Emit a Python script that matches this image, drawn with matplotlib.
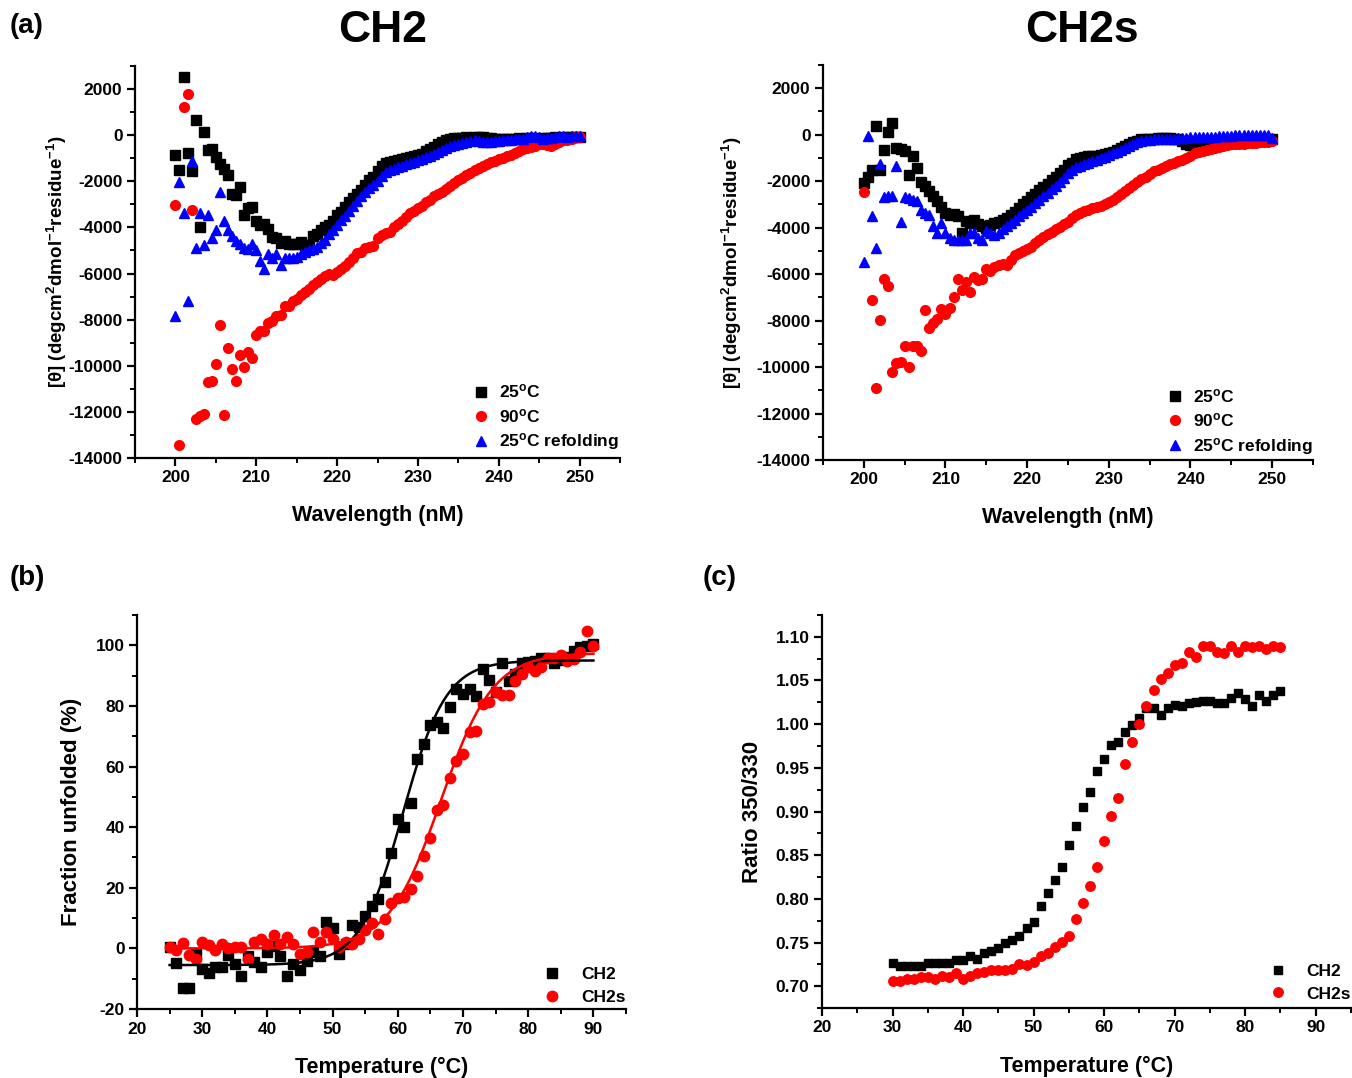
import numpy as np
import matplotlib
matplotlib.use('Agg')
import matplotlib.pyplot as plt
from matplotlib.ticker import MultipleLocator, FormatStrFormatter

plt.rcParams['font.family'] = ['Liberation Sans', 'DejaVu Sans']
plt.rcParams['font.weight'] = 'bold'
plt.rcParams['axes.labelweight'] = 'bold'
plt.rcParams['axes.unicode_minus'] = False
plt.rcParams['mathtext.fontset'] = 'custom'
plt.rcParams['mathtext.rm'] = 'Liberation Sans:bold'
plt.rcParams['mathtext.it'] = 'Liberation Sans:bold'
plt.rcParams['mathtext.bf'] = 'Liberation Sans:bold'
plt.rcParams['mathtext.default'] = 'bf'

# ---------------- (a) CD spectra, wavelength 200-250 nm step 0.5 ----------------
ch2_25 = [
    -860, -1520, 2540, -760, -1550, 670, -4000, 130, -640, -600,
    -960, -1250, -1470, -1720, -2540, -2610, -2250, -3470, -3150, -3120,
    -3740, -3880, -3850, -4050, -4410, -4470, -4690, -4610, -4730, -4730,
    -4730, -4640, -4760, -4760, -4390, -4290, -4100, -3970, -3880, -3710,
    -3470, -3330, -3100, -2900, -2720, -2550, -2380, -2150, -1960, -1800,
    -1550, -1350, -1200, -1150, -1110, -1080, -1050, -1000, -950, -900,
    -880, -800, -700, -600, -500, -400, -310, -230, -160, -140,
    -120, -130, -100, -110, -90, -100, -90, -110, -130, -150,
    -160, -150, -170, -160, -150, -140, -150, -130, -120, -140,
    -150, -130, -120, -110, -100, -110, -100, -90, -100, -80,
    -60]
ch2_90 = [
    -3040, -13440, 1230, 1770, -3230, -12320, -12200, -12090, -10720, -10640,
    -9940, -8220, -12130, -9240, -10160, -10640, -9550, -10040, -9400, -9650,
    -8670, -8480, -8480, -8150, -8040, -7850, -7820, -7390, -7390, -7210,
    -7100, -6950, -6800, -6660, -6510, -6370, -6220, -6100, -6040, -6070,
    -5930, -5810, -5660, -5490, -5340, -5120, -5050, -4900, -4830, -4790,
    -4470, -4320, -4250, -4180, -4000, -3850, -3740, -3550, -3370, -3280,
    -3150, -3050, -2900, -2790, -2650, -2550, -2450, -2330, -2200, -2080,
    -1960, -1850, -1720, -1620, -1520, -1420, -1330, -1250, -1180, -1100,
    -1050, -980, -920, -860, -760, -680, -620, -560, -510, -450,
    -400, -380, -420, -450, -380, -300, -230, -200, -150, -100,
    -60]
ch2_ref = [
    -7850, -2010, -3370, -7210, -1110, -4900, -3370, -4760, -3450, -4470,
    -4100, -2450, -3740, -4100, -4390, -4610, -4730, -4900, -4930, -4730,
    -4980, -5460, -5810, -5170, -5310, -5170, -5610, -5310, -5340, -5340,
    -5270, -5150, -5080, -5000, -4930, -4850, -4690, -4540, -4300, -4100,
    -3900, -3700, -3500, -3300, -3050, -2850, -2650, -2450, -2280, -2150,
    -2000, -1750, -1600, -1520, -1450, -1380, -1330, -1260, -1200, -1150,
    -1080, -1020, -960, -900, -820, -730, -650, -560, -480, -420,
    -380, -330, -280, -240, -230, -260, -300, -300, -280, -260,
    -240, -230, -220, -200, -180, -170, -160, -100, -50, -20,
    -100, -150, -130, -120, -80, -50, -30, -60, -50, -40,
    -30]

ch2s_25 = [
    -2060, -1830, -1500, 380, -1500, -660, 120, 490, -560, -630,
    -710, -1750, -920, -1430, -2050, -2220, -2440, -2650, -2870, -3090,
    -3380, -3450, -3410, -3520, -4240, -3710, -3810, -3670, -3840, -3920,
    -4030, -3880, -3810, -3740, -3670, -3590, -3450, -3310, -3150, -3000,
    -2870, -2700, -2550, -2400, -2250, -2100, -1950, -1820, -1650, -1500,
    -1300, -1200, -1050, -1000, -960, -930, -920, -900, -870, -850,
    -780, -740, -650, -560, -470, -390, -320, -260, -200, -190,
    -170, -170, -150, -140, -130, -150, -180, -200, -280, -380,
    -450, -490, -510, -520, -520, -480, -450, -420, -400, -380,
    -350, -320, -300, -280, -270, -250, -230, -210, -200, -200,
    -200]
ch2s_90 = [
    -2480, np.nan, -7100, -10920, -7990, -6220, -6520, -10230, -9840, -9800,
    -9080, -9990, -9080, -9080, -9330, -7560, -8330, -8110, -7920, -7490,
    -7710, -7450, -6980, -6230, -6670, -6340, -6770, -6120, -6260, -6230,
    -5800, -5860, -5690, -5610, -5570, -5610, -5400, -5180, -5110, -5010,
    -4930, -4820, -4680, -4530, -4390, -4270, -4170, -4070, -3970, -3850,
    -3750, -3600, -3450, -3380, -3300, -3230, -3150, -3100, -3050, -2980,
    -2900, -2800, -2680, -2560, -2420, -2300, -2150, -2020, -1900, -1800,
    -1700, -1560, -1500, -1420, -1330, -1270, -1200, -1130, -1070, -1000,
    -900, -800, -750, -700, -650, -610, -560, -510, -470, -440,
    -420, -410, -400, -380, -360, -350, -340, -330, -320, -300,
    -270]
ch2s_ref = [
    -5470, -60, -3490, -4860, -1280, -2680, -2630, -2630, -1330, -3740,
    -2680, -2730, -2800, -2870, -3230, -3350, -3450, -3950, -4210, -3780,
    -4240, -4460, -4530, -4530, -4530, -4530, -4240, -4240, -4460, -4530,
    -4130, -4210, -4310, -4210, -4070, -3950, -3810, -3650, -3500, -3380,
    -3250, -3100, -2950, -2800, -2650, -2500, -2350, -2200, -2030, -1860,
    -1650, -1500, -1400, -1330, -1260, -1200, -1140, -1080, -1000, -950,
    -880, -800, -730, -650, -560, -480, -420, -330, -260, -230,
    -210, -200, -200, -190, -180, -170, -170, -160, -140, -130,
    -120, -110, -100, -100, -90, -90, -80, -70, -60, -60,
    -50, -30, -30, -20, -20, 0, 0, 0, -10, -20,
    -130]

# ---------------- (b) fraction unfolded, 25-90 C ----------------
b_ch2 = [
    0.3, -4.8, -13.2, -13.2, -1.9, -6.8, -8.1, -6.3, -6.1, -2.2,
    -5.2, -9.0, -2.4, -4.6, -6.3, -1.3, 0.9, -2.4, -9.0, -5.2,
    -7.0, -4.1, -1.3, -2.6, 8.6, 6.6, -1.9, 1.4, 7.7, 6.9,
    10.8, 14.1, 16.3, 21.8, 31.4, 42.7, 39.9, 48.0, 62.5, 67.4,
    73.7, 74.6, 72.6, 79.5, 85.6, 83.9, 85.6, 83.4, 92.2, 88.7,
    84.7, 94.1, 88.3, 90.5, 94.1, 94.6, 94.9, 95.7, 95.7, 94.3,
    95.2, 96.0, 98.2, 99.3, 99.9, 100.4]
b_ch2s = [
    0.3, -0.4, 1.8, -2.2, -3.5, 2.2, 1.1, -0.5, 1.4, 0.0,
    0.3, 0.3, -3.5, 2.2, 3.1, 1.4, 4.4, 1.4, 3.6, 1.4,
    -1.9, -1.3, 5.5, 2.2, 5.3, 3.1, 0.3, 2.0, 1.4, 3.1,
    6.2, 8.4, 4.7, 9.7, 15.0, 16.5, 16.8, 19.6, 24.0, 30.4,
    36.3, 45.8, 47.3, 56.1, 61.9, 64.1, 71.5, 71.8, 80.6, 81.4,
    84.7, 83.6, 83.6, 88.3, 90.5, 92.7, 91.6, 92.7, 95.7, 95.7,
    96.8, 94.9, 95.5, 97.7, 104.8, 99.9]
# Boltzmann fit parameters: bottom, top, Tm, slope
fit_ch2 = (-5.5, 95.0, 60.8, 3.3)
fit_ch2s = (0.0, 97.5, 66.6, 4.0)

# ---------------- (c) ratio 350/330, 30-85 C ----------------
c_ch2 = [
    0.727, 0.723, 0.723, 0.723, 0.723, 0.726, 0.727, 0.727, 0.727, 0.730,
    0.730, 0.734, 0.731, 0.738, 0.740, 0.744, 0.749, 0.753, 0.757, 0.767,
    0.774, 0.792, 0.807, 0.821, 0.837, 0.862, 0.883, 0.905, 0.922, 0.946,
    0.960, 0.976, 0.980, 0.991, 0.999, 1.007, 1.018, 1.019, 1.011, 1.019,
    1.022, 1.021, 1.024, 1.025, 1.027, 1.026, 1.024, 1.024, 1.030, 1.036,
    1.029, 1.021, 1.033, 1.026, 1.033, 1.038]
c_ch2s = [
    0.706, 0.706, 0.708, 0.708, 0.711, 0.711, 0.708, 0.712, 0.710, 0.715,
    0.708, 0.712, 0.715, 0.716, 0.718, 0.719, 0.719, 0.720, 0.725, 0.724,
    0.728, 0.734, 0.738, 0.745, 0.751, 0.758, 0.777, 0.795, 0.815, 0.837,
    0.866, 0.895, 0.916, 0.954, 0.980, 1.000, 1.021, 1.039, 1.052, 1.059,
    1.068, 1.070, 1.083, 1.077, 1.090, 1.089, 1.083, 1.081, 1.089, 1.083,
    1.090, 1.088, 1.090, 1.086, 1.089, 1.088]

W, H = 1352, 1078
fig = plt.figure(figsize=(W / 100, H / 100), dpi=100)


def box(l, t, r, b):
    return [l / W, 1 - b / H, (r - l) / W, (b - t) / H]


def style(ax):
    for s in ('top', 'right'):
        ax.spines[s].set_visible(False)
    for s in ('left', 'bottom'):
        ax.spines[s].set_linewidth(1.6)
    ax.tick_params(which='major', direction='out', length=6, width=1.6, labelsize=12.5, pad=3)
    ax.tick_params(which='minor', direction='out', length=3.5, width=1.4)
    for lab in ax.get_xticklabels() + ax.get_yticklabels():
        lab.set_fontweight('bold')


deg = r'$^{\mathbf{o}}$C'
ylab_a = r'[θ] (degcm$^{\mathbf{2}}$dmol$^{\mathbf{-1}}$residue$^{\mathbf{-1}}$)'
LEG = dict(frameon=False, fontsize=12.5, borderaxespad=0.2, handlelength=1.2, numpoints=1)


def panel_a(ax, y25, y90, yref, ylab_x, leg_anchor):
    x = np.linspace(200, 250, len(y25))
    h1, = ax.plot(x, y25, ls='none', marker='s', ms=6.5, color='black', label='25' + deg)
    h2, = ax.plot(np.linspace(200, 250, len(y90)), y90, ls='none', marker='o', ms=7, color='#ff0000',
                  label='90' + deg)
    h3, = ax.plot(np.linspace(200, 250, len(yref)), yref, ls='none', marker='^', ms=7.5, color='#0000ff',
                  label='25' + deg + ' refolding')
    ax.set_xlim(195, 255)
    ax.set_ylim(-14000, 3000)
    ax.xaxis.set_major_locator(MultipleLocator(10))
    ax.xaxis.set_minor_locator(MultipleLocator(5))
    ax.yaxis.set_major_locator(MultipleLocator(2000))
    ax.yaxis.set_minor_locator(MultipleLocator(1000))
    style(ax)
    ax.set_xlabel('Wavelength (nM)', fontsize=15.5, fontweight='bold', labelpad=14)
    ax.set_ylabel(ylab_a, fontsize=13.5, fontweight='bold')
    ax.yaxis.set_label_coords(ylab_x, 0.5)
    ax.legend(handles=[h1, h2, h3], loc='lower right', bbox_to_anchor=leg_anchor,
              handletextpad=0.45, labelspacing=0.36, **LEG)


axA1 = fig.add_axes(box(135, 66, 620, 458))
panel_a(axA1, ch2_25, ch2_90, ch2_ref, (69 - 135) / 485, (1.02, -0.012))
axA2 = fig.add_axes(box(823, 65, 1313, 460))
panel_a(axA2, ch2s_25, ch2s_90, ch2s_ref, (744 - 823) / 490, (1.021, -0.018))

# (b)
axB = fig.add_axes(box(137, 615, 626, 1009))
Tb = np.linspace(25, 90, len(b_ch2))
hb1, = axB.plot(Tb, b_ch2, ls='none', marker='s', ms=7, color='black', label='CH2')
hb2, = axB.plot(np.linspace(25, 90, len(b_ch2s)), b_ch2s, ls='none', marker='o', ms=7.5, color='#ff0000',
                label='CH2s')
Tf = np.linspace(25, 90, 400)
for (a1, a2, x0, dx), col in ((fit_ch2, 'black'), (fit_ch2s, '#ff0000')):
    axB.plot(Tf, a2 + (a1 - a2) / (1 + np.exp((Tf - x0) / dx)), color=col, lw=1.8)
axB.set_xlim(20, 95)
axB.set_ylim(-20, 110)
axB.xaxis.set_major_locator(MultipleLocator(10))
axB.xaxis.set_minor_locator(MultipleLocator(5))
axB.yaxis.set_major_locator(MultipleLocator(20))
axB.yaxis.set_minor_locator(MultipleLocator(10))
style(axB)
axB.set_xlabel('Temperature (°C)', fontsize=15.5, fontweight='bold', labelpad=15)
axB.set_ylabel('Fraction unfolded (%)', fontsize=16, fontweight='bold')
axB.yaxis.set_label_coords((82 - 137) / 489, 0.5)
axB.legend(handles=[hb1, hb2], loc='lower right', bbox_to_anchor=(1.02, -0.016),
           handletextpad=1.05, labelspacing=0.42, **LEG)

# (c)
axC = fig.add_axes(box(822, 615, 1351, 1008))
Tc = np.linspace(30, 85, len(c_ch2))
hc1, = axC.plot(Tc, c_ch2, ls='none', marker='s', ms=6.3, color='black', label='CH2')
hc2, = axC.plot(np.linspace(30, 85, len(c_ch2s)), c_ch2s, ls='none', marker='o', ms=6.8, color='#ff0000',
                label='CH2s')
axC.set_xlim(20, 95)
axC.set_ylim(0.675, 1.125)
axC.xaxis.set_major_locator(MultipleLocator(10))
axC.xaxis.set_minor_locator(MultipleLocator(5))
axC.yaxis.set_major_locator(MultipleLocator(0.05))
axC.yaxis.set_minor_locator(MultipleLocator(0.025))
axC.yaxis.set_major_formatter(FormatStrFormatter('%.2f'))
style(axC)
axC.set_xlabel('Temperature (°C)', fontsize=15.5, fontweight='bold', labelpad=15)
axC.set_ylabel('Ratio 350/330', fontsize=16, fontweight='bold')
axC.yaxis.set_label_coords((763 - 822) / 529, 0.5)
axC.legend(handles=[hc1, hc2], loc='lower right', bbox_to_anchor=(1.02, -0.01),
           handletextpad=1.05, labelspacing=0.42, **LEG)

# titles and panel letters
fig.text(383 / W, 1 - 31 / H, 'CH2', fontsize=32, fontweight='bold', ha='center', va='center')
fig.text(1082 / W, 1 - 31 / H, 'CH2s', fontsize=32, fontweight='bold', ha='center', va='center')
fig.text(10 / W, 1 - 26 / H, '(a)', fontsize=20, fontweight='bold', ha='left', va='center')
fig.text(10 / W, 1 - 578 / H, '(b)', fontsize=20, fontweight='bold', ha='left', va='center')
fig.text(703 / W, 1 - 578 / H, '(c)', fontsize=20, fontweight='bold', ha='left', va='center')

fig.savefig('out.png', dpi=100)
